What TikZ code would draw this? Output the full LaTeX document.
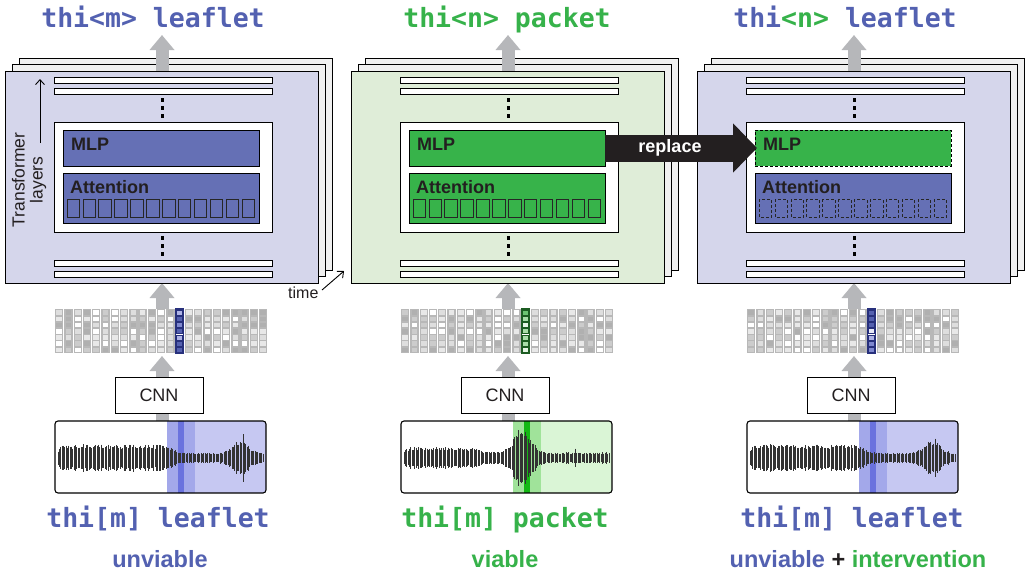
\documentclass[tikz,border=0pt]{standalone}
\usepackage{fontspec}
\setmainfont{Liberation Sans}
\newfontfamily\monof{DejaVu Sans Mono}
\usetikzlibrary{arrows.meta}
\definecolor{bluetxt}{HTML}{5361B1}
\definecolor{bluebox}{HTML}{6570B5}
\definecolor{bluepanel}{HTML}{D5D6EB}
\definecolor{greentxt}{HTML}{36B24A}
\definecolor{greenbox}{HTML}{37B34A}
\definecolor{greenpanel}{HTML}{DFEDD8}
\definecolor{backpanel}{HTML}{F0F0F0}
\definecolor{arrowgray}{HTML}{B6B7BA}
\definecolor{arrowblack}{HTML}{231F20}
\definecolor{textdark}{HTML}{231F20}
\definecolor{gridbg}{HTML}{B8B8B8}
\definecolor{cell0}{HTML}{FFFFFF}
\definecolor{cell1}{HTML}{DEDEDE}
\definecolor{cell2}{HTML}{CCCCCC}
\definecolor{cell3}{HTML}{B0B0B0}
\definecolor{cell4}{HTML}{E8E8E8}
\definecolor{Bedge}{HTML}{27307C}
\definecolor{Bcell0}{HTML}{E8E9F8}
\definecolor{Bcell1}{HTML}{AEB3E6}
\definecolor{Bcell2}{HTML}{7F88CF}
\definecolor{Bcell3}{HTML}{5561B0}
\definecolor{Gedge}{HTML}{1C5C22}
\definecolor{Gcell0}{HTML}{E6F6E6}
\definecolor{Gcell1}{HTML}{A8DDA8}
\definecolor{Gcell2}{HTML}{6CC472}
\definecolor{Gcell3}{HTML}{36A040}
\definecolor{Blight}{HTML}{C6C8F2}
\definecolor{Bmed}{HTML}{A3A8EA}
\definecolor{Bdark}{HTML}{6A72DE}
\definecolor{Glight}{HTML}{DAF5D6}
\definecolor{Gmed}{HTML}{A0E39A}
\definecolor{Gdark}{HTML}{14B814}
\tikzset{
  panelline/.style={draw=black, line width=0.9pt},
  frontpanel/.style={draw=black, line width=0.9pt, minimum width=313pt, minimum height=212pt, inner sep=0pt, outer sep=0pt, anchor=north west},
  barbox/.style={draw=black, fill=white, line width=0.8pt},
  innerbox/.style={draw=black, fill=white, line width=0.8pt, minimum width=218pt, minimum height=110pt, inner sep=0pt, outer sep=0pt, anchor=north west},
  layerbox/.style={draw=black, line width=0.8pt, minimum width=196pt, inner sep=0pt, outer sep=0pt, anchor=north west},
  boxlabel/.style={anchor=base west, inner sep=0pt, text=textdark, font=\fontsize{18}{20}\selectfont\bfseries},
  solidsq/.style={draw=black!85, line width=0.7pt},
  dashsq/.style={draw=black!85, line width=0.6pt, densely dashed},
  dashmlp/.style={densely dashed},
  plainmlp/.style={},
  grayarrow/.style={draw=arrowgray, line width=13pt, -{Triangle[width=24pt,length=15pt]}},
  replacearrow/.style={draw=arrowblack, line width=27pt, -{Triangle[width=48pt,length=24pt]}},
  thinarrow/.style={draw=black, line width=0.9pt, -{Straight Barb[length=5pt,width=9pt]}},
  cnnbox/.style={draw=black, fill=white, line width=0.8pt, minimum width=88pt, minimum height=36pt, inner sep=0pt, font=\fontsize{18}{20}\selectfont, text=textdark},
  wavebox/.style={draw=black, line width=1.1pt, rounded corners=3pt, minimum width=211pt, minimum height=72pt, inner sep=0pt, outer sep=0pt, anchor=north west},
  waveline/.style={draw=black!80, line width=0.9pt},
  titletxt/.style={anchor=base, inner sep=0pt, font=\fontsize{26.5}{28}\selectfont\monof\bfseries},
  subtxt/.style={anchor=base, inner sep=0pt, font=\fontsize{23.5}{26}\selectfont\bfseries}
}
% #1 name, #2 x0, #3 panel fill, #4 mlp fill, #5 mlp style, #6 att fill, #7 square style, #8 colour prefix, #9 wave type
\newcommand\drawpanel[9]{%
  \draw[panelline, fill=backpanel] (#2+14,58) rectangle (#2+327,270);
  \draw[panelline, fill=backpanel] (#2+7,64.5) rectangle (#2+320,276.5);
  \coordinate (#1topin) at (#2+157,80);
  \coordinate (#1toptip) at (#2+157,35);
  \draw[grayarrow] (#1topin) -- (#1toptip);
  \coordinate (#1gridtop) at (#2+157,309);
  \coordinate (#1panelbot) at (#2+157,283);
  \draw[grayarrow] (#1gridtop) -- (#1panelbot);
  \coordinate (#1wavetop) at (#2+157,421);
  \coordinate (#1gridbot) at (#2+157,356);
  \draw[grayarrow] (#1wavetop) -- (#1gridbot);
  \node[frontpanel, fill=#3] (#1panel) at (#2,71) {};
  \foreach \yy in {77,88,260,271}{\draw[barbox] (#2+49,\yy) rectangle (#2+267,\yy+6);}
  \foreach \yy in {98,106,114,236,244,252}{\fill[black] (#2+155.5,\yy) rectangle ++(3,3.5);}
  \node[innerbox] (#1inner) at (#2+49,122) {};
  \node[layerbox, fill=#4, #5, minimum height=36pt] (#1mlp) at (#2+58,130) {};
  \node[boxlabel] (#1mlptxt) at (#2+66,150) {MLP};
  \node[layerbox, fill=#6, minimum height=50pt] (#1att) at (#2+58,173) {};
  \node[boxlabel] (#1atttxt) at (#2+65,193) {Attention};
  \foreach \k in {0,...,11}{\draw[#7] (#2+62+\k*15.9,199) rectangle ++(12.5,18);}
  % token grid
  \pgfmathsetseed{#2+11}
  \foreach \c in {0,...,22}{
    \pgfmathsetmacro\cx{#2+50+\c*9.27}
    \fill[gridbg] (\cx,309) rectangle ++(8.4,44);
    \foreach \r in {0,...,6}{
      \pgfmathrandominteger{\kk}{0}{4}
      \fill[cell\kk] (\cx+1.4,309+1.3+\r*6.2) rectangle ++(5.6,4.7);
    }
  }
  \pgfmathsetmacro\hx{#2+50+13*9.27}
  \fill[white] (\hx,309) rectangle ++(8.4,44);
  \foreach \r in {0,...,6}{
    \pgfmathrandominteger{\kk}{0}{3}
    \draw[#8edge, fill=#8cell\kk, line width=0.5pt] (\hx+1.2,309+1.1+\r*6.2) rectangle ++(6,5);
  }
  \draw[#8edge, line width=1.1pt] (\hx,309) rectangle ++(8.4,44);
  \node[cnnbox] (#1cnn) at (#2+154,395) {CNN};
  % waveform
  \begin{scope}
    \clip[rounded corners=3pt] (#2+50,421) rectangle (#2+261,493);
    \fill[#8light] (#2+190,421) rectangle (#2+261,493);
    \fill[#8med] (#2+162,421) rectangle (#2+190,493);
    \fill[#8dark] (#2+173,421) rectangle (#2+178.5,493);
  \end{scope}
  \foreach \i in {0,...,152}{
    \pgfmathsetmacro\xr{3+\i*1.35}
    \ifnum#9=1
      \pgfmathsetmacro\env{4.5+7.5/(1+exp(min((\xr-118)/4,9)))+12*exp(-min(((\xr-185)/11)^2,9))+9*(\xr>187)*(\xr<188.4)}
    \else
      \pgfmathsetmacro\env{5+4.5/(1+exp(min((\xr-80)/5,9)))+21*exp(-min(((\xr-121)/12)^2,9))+4*(\xr>174)*(\xr<175.4)}
    \fi
    \pgfmathsetmacro\amp{\env*(0.78+0.35*rnd)*min(1,0.5+\xr/16)}
    \draw[waveline] (#2+50+\xr,458-\amp) -- (#2+50+\xr,458+\amp);
  }
  \node[wavebox] (#1wave) at (#2+50,421) {};
}
\begin{document}
\begin{tikzpicture}[x=1pt,y=-1pt]
\useasboundingbox (0,0) rectangle (1028,576);
\fill[white] (0,0) rectangle (1028,576);

\drawpanel{pa}{5}{bluepanel}{bluebox}{plainmlp}{bluebox}{solidsq}{B}{1}
\drawpanel{pb}{351}{greenpanel}{greenbox}{plainmlp}{greenbox}{solidsq}{G}{2}
\drawpanel{pc}{697}{bluepanel}{greenbox}{dashmlp}{bluebox}{dashsq}{B}{1}

% transformer layers axis
\coordinate (tlbot) at (40,143);
\coordinate (tltop) at (40,79);
\draw[thinarrow] (tlbot) -- (tltop);
\node[rotate=90, align=center, inner sep=0pt, text=textdark, font=\fontsize{17.5}{18}\selectfont] (tllbl) at (29,180) {Transformer\\layers};
% time axis
\node[anchor=base west, inner sep=0pt, text=textdark, font=\fontsize{16}{18}\selectfont] (timelbl) at (288,298) {time};
\coordinate (timea) at (322,290);
\coordinate (timeb) at (344,271);
\draw[thinarrow] (timea) -- (timeb);

% replace arrow
\draw[replacearrow] (pbmlp.east) -- ([xshift=2pt]pcmlp.west);
\node[text=white, inner sep=0pt, font=\fontsize{18}{20}\selectfont\bfseries] (replbl) at (670,148) {replace};

% titles
\node[titletxt, text=bluetxt] (ta) at (153,27) {thi<m> leaflet};
\node[titletxt, text=greentxt] (tb) at (507,27) {thi<n> packet};
\node[titletxt, text=bluetxt] (tc) at (845,27) {thi\textcolor{greentxt}{<n>} leaflet};
% bottom labels
\node[titletxt, text=bluetxt] (la) at (158,527) {thi[m] leaflet};
\node[titletxt, text=greentxt] (lb) at (505,527) {thi[m] packet};
\node[titletxt, text=bluetxt] (lc) at (852,527) {thi[m] leaflet};
\node[subtxt, text=bluetxt] (sa) at (160,567) {unviable};
\node[subtxt, text=greentxt] (sb) at (505,567) {viable};
\node[subtxt] (sc) at (858,567) {\textcolor{bluetxt}{unviable} \textcolor{textdark}{+} \textcolor{greentxt}{intervention}};
\end{tikzpicture}
\end{document}
